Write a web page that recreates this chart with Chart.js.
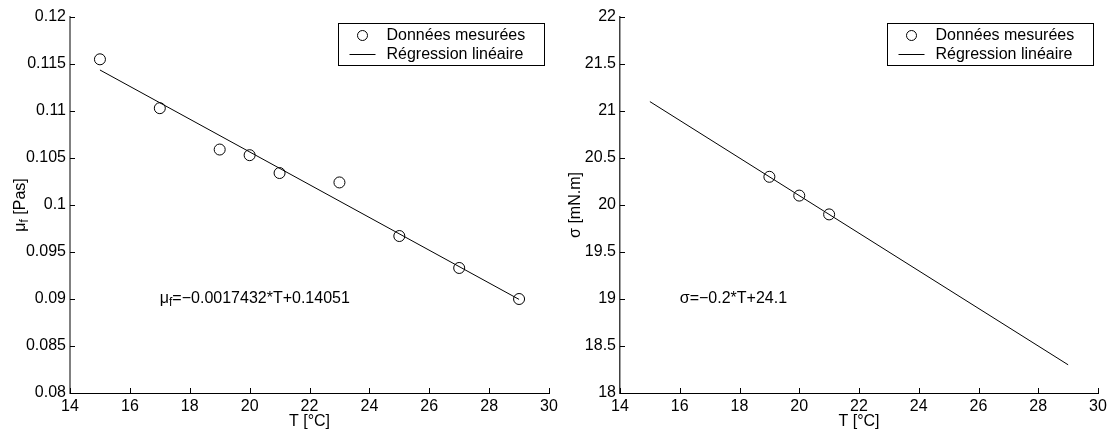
<!DOCTYPE html>
<html>
<head>
<meta charset="utf-8">
<script src="https://cdn.jsdelivr.net/npm/chart.js@4/dist/chart.umd.min.js"></script>
<style>
  html, body { margin: 0; padding: 0; background: #fff; }
  #wrap { position: relative; width: 1114px; height: 435px; }
  canvas { position: absolute; top: 0; }
  #viscosity { left: 0; }
  #tension { left: 557px; }
</style>
</head>
<body>
<div id="wrap">
  <canvas id="viscosity" width="600" height="435"></canvas>
  <canvas id="tension" width="557" height="435"></canvas>
</div>
<script>
// Measured temperatures and values
const tempViscosity = [15, 17, 19, 20, 21, 23, 25, 27, 29];
const viscosity = [0.1155, 0.1103, 0.1059, 0.1053, 0.1034, 0.1024, 0.0967, 0.0933, 0.0900];
const tempTension = [19, 20, 21];
const tension = [20.3, 20.1, 19.9];

// Linear fits: [slope, intercept] and the fitted temperature range
const fitViscosity = [-0.0017432, 0.14051];
const fitTension = [-0.2, 24.1];
const fitRange = [15, 29];

// Axis ticks
const xTicks = [14, 16, 18, 20, 22, 24, 26, 28, 30];
const xTickLabels = ['14', '16', '18', '20', '22', '24', '26', '28', '30'];
const yTicksViscosity = [0.08, 0.085, 0.09, 0.095, 0.1, 0.105, 0.11, 0.115, 0.12];
const yTickLabelsViscosity = ['0.08', '0.085', '0.09', '0.095', '0.1', '0.105', '0.11', '0.115', '0.12'];
const yTicksTension = [18, 18.5, 19, 19.5, 20, 20.5, 21, 21.5, 22];
const yTickLabelsTension = ['18', '18.5', '19', '19.5', '20', '20.5', '21', '21.5', '22'];

const legendLabels = ['Données mesurées', 'Régression linéaire'];
const xTitle = 'T [°C]';

const FONT = '"Liberation Sans", Arial, Helvetica, sans-serif';
const FS = 16;
const SUB = 12;

function fitText(fit) {
  const s = fit[0] < 0 ? '\u2212' + Math.abs(fit[0]) : String(fit[0]);
  return '=' + s + '*T+' + fit[1];
}

// Draws text with optional subscript; parts = [[text, isSub], ...]
function drawParts(ctx, parts, x, y) {
  let cx = x;
  for (const [t, sub] of parts) {
    ctx.font = (sub ? SUB : FS) + 'px ' + FONT;
    ctx.fillText(t, cx, sub ? y + 4 : y);
    cx += ctx.measureText(t).width;
  }
  return cx - x;
}
function partsWidth(ctx, parts) {
  let w = 0;
  for (const [t, sub] of parts) {
    ctx.font = (sub ? SUB : FS) + 'px ' + FONT;
    w += ctx.measureText(t).width;
  }
  return w;
}

const matlabDecor = {
  id: 'matlabDecor',
  afterDatasetsDraw(chart, args, o) {
    const ctx = chart.ctx;
    const area = chart.chartArea;
    const xs = chart.scales.x, ys = chart.scales.y;
    ctx.save();

    // inward tick marks
    ctx.strokeStyle = '#000';
    ctx.lineWidth = 1;
    ctx.beginPath();
    for (const v of xTicks) {
      const px = Math.round(xs.getPixelForValue(v)) + 0.5;
      ctx.moveTo(px, area.bottom);
      ctx.lineTo(px, area.bottom - 5);
    }
    for (const v of o.yTicks) {
      const py = Math.round(ys.getPixelForValue(v)) + 0.5;
      ctx.moveTo(area.left, py);
      ctx.lineTo(area.left + 5, py);
    }
    ctx.stroke();

    ctx.fillStyle = '#000';
    ctx.textBaseline = 'middle';
    ctx.textAlign = 'left';

    // fit equation, anchored at data coordinates
    const ax = xs.getPixelForValue(o.notePos[0]);
    const ay = ys.getPixelForValue(o.notePos[1]);
    drawParts(ctx, o.noteParts, ax, ay);

    // x title
    ctx.font = FS + 'px ' + FONT;
    ctx.textAlign = 'center';
    ctx.fillText(xTitle, (area.left + area.right) / 2, 422);

    // y title, rotated
    ctx.save();
    ctx.translate(o.yTitleX, (area.top + area.bottom) / 2);
    ctx.rotate(-Math.PI / 2);
    ctx.textAlign = 'left';
    const w = partsWidth(ctx, o.yTitleParts);
    drawParts(ctx, o.yTitleParts, -w / 2, 0);
    ctx.restore();

    // boxed legend in the upper right corner
    const bw = 206, bh = 42;
    const bx = Math.round(area.right - o.legendGap - bw) + 0.5;
    const by = Math.round(area.top + 6) + 0.5;
    ctx.fillStyle = '#fff';
    ctx.fillRect(bx, by, bw, bh);
    ctx.strokeStyle = '#000';
    ctx.lineWidth = 1;
    ctx.strokeRect(bx, by, bw, bh);
    const ds0 = chart.data.datasets[0];
    const r1 = by + 12, r2 = by + 31;
    ctx.beginPath();
    ctx.arc(bx + 24, r1, 5, 0, Math.PI * 2);
    ctx.strokeStyle = ds0.borderColor;
    ctx.stroke();
    ctx.beginPath();
    ctx.moveTo(bx + 11, r2);
    ctx.lineTo(bx + 37, r2);
    ctx.stroke();
    ctx.fillStyle = '#000';
    ctx.font = FS + 'px ' + FONT;
    ctx.textAlign = 'left';
    ctx.fillText(chart.data.datasets[0].label, bx + 48, r1);
    ctx.fillText(chart.data.datasets[1].label, bx + 48, r2);

    ctx.restore();
  }
};

function makeChart(id, cfg) {
  const pts = cfg.tx.map((t, i) => ({ x: t, y: cfg.vals[i] }));
  const line = fitRange.map(t => ({ x: t, y: cfg.fit[0] * t + cfg.fit[1] }));
  return new Chart(document.getElementById(id), {
    type: 'scatter',
    data: {
      datasets: [
        {
          label: legendLabels[0],
          data: pts,
          showLine: false,
          pointStyle: 'circle',
          pointRadius: 5.5,
          pointBorderWidth: 1,
          borderColor: '#000',
          backgroundColor: 'rgba(0,0,0,0)',
          order: 1
        },
        {
          label: legendLabels[1],
          data: line,
          showLine: true,
          pointRadius: 0,
          borderWidth: 1,
          borderColor: '#000',
          backgroundColor: 'rgba(0,0,0,0)',
          order: 2
        }
      ]
    },
    options: {
      responsive: false,
      animation: false,
      devicePixelRatio: 1,
      layout: { padding: { left: 0, top: 17, right: cfg.padRight, bottom: 0 } },
      plugins: {
        legend: { display: false },
        tooltip: { enabled: false },
        matlabDecor: {
          yTicks: cfg.yTicks,
          notePos: cfg.notePos,
          noteParts: cfg.noteParts,
          yTitleParts: cfg.yTitleParts,
          yTitleX: cfg.yTitleX,
          legendGap: cfg.legendGap
        }
      },
      scales: {
        x: {
          type: 'linear',
          min: xTicks[0],
          max: xTicks[xTicks.length - 1],
          afterBuildTicks: s => { s.ticks = xTicks.map(v => ({ value: v })); },
          afterFit: s => { s.height = 42; },
          grid: { display: false, drawTicks: false },
          border: { display: true, color: '#000', width: 1 },
          ticks: {
            autoSkip: false,
            maxRotation: 0,
            padding: 4,
            color: '#000',
            font: { family: FONT, size: FS },
            callback: (v, i) => xTickLabels[i]
          }
        },
        y: {
          type: 'linear',
          min: cfg.yTicks[0],
          max: cfg.yTicks[cfg.yTicks.length - 1],
          afterBuildTicks: s => { s.ticks = cfg.yTicks.map(v => ({ value: v })); },
          afterFit: s => { s.width = cfg.yWidth; },
          grid: { display: false, drawTicks: false },
          border: { display: true, color: cfg.yAxisColor, width: cfg.yAxisWidth },
          ticks: {
            autoSkip: false,
            padding: 4,
            color: '#000',
            font: { family: FONT, size: FS },
            callback: (v, i) => cfg.yTickLabels[i]
          }
        }
      }
    },
    plugins: [matlabDecor]
  });
}

makeChart('viscosity', {
  tx: tempViscosity,
  vals: viscosity,
  fit: fitViscosity,
  yTicks: yTicksViscosity,
  yTickLabels: yTickLabelsViscosity,
  yWidth: 70,
  padRight: 600 - 549,
  yAxisColor: '#808080',
  yAxisWidth: 2,
  notePos: [17, 0.09],
  noteParts: [['\u03bc', false], ['f', true], [fitText(fitViscosity), false]],
  yTitleParts: [['\u03bc', false], ['f', true], [' [Pas]', false]],
  yTitleX: 21,
  legendGap: 5
});

makeChart('tension', {
  tx: tempTension,
  vals: tension,
  fit: fitTension,
  yTicks: yTicksTension,
  yTickLabels: yTickLabelsTension,
  yWidth: 63,
  padRight: 557 - 541,
  yAxisColor: '#404040',
  yAxisWidth: 1.5,
  notePos: [16, 19],
  noteParts: [['\u03c3', false], [fitText(fitTension), false]],
  yTitleParts: [['\u03c3 [mN.m]', false]],
  yTitleX: 19,
  legendGap: 5
});
</script>
</body>
</html>
